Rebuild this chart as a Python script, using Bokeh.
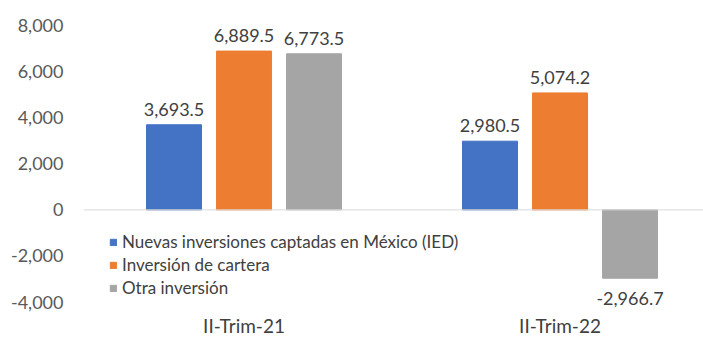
from bokeh.plotting import figure
from bokeh.models import Range1d, FixedTicker, ColumnDataSource, LabelSet, Span, Legend, LegendItem, NumeralTickFormatter
from bokeh.core.properties import value
from bokeh.embed import file_html
from bokeh.resources import INLINE

categories = ["II-Trim-21", "II-Trim-22"]
series_names = ["Nuevas inversiones captadas en México (IED)", "Inversión de cartera", "Otra inversión"]
ied = [3693.5, 2980.5]
cartera = [6889.5, 5074.2]
otra = [6773.5, -2966.7]
colors = ["#4472C4", "#ED7D31", "#A5A5A5"]
y_ticks = [-4000, -2000, 0, 2000, 4000, 6000, 8000]

FONT = "Lato"
W, H = 703, 339
x0 = -0.008
p = figure(width=W, height=H, output_backend="svg", toolbar_location=None,
           x_range=Range1d(x0, x0 + 620 / 316), y_range=Range1d(-4236, 8000),
           min_border_left=83, min_border_right=0, min_border_top=25, min_border_bottom=19)
p.outline_line_color = None
p.xgrid.grid_line_color = None
p.ygrid.grid_line_color = None
p.background_fill_color = "white"
p.border_fill_color = "white"

centers = [i + 0.5 for i in range(len(categories))]
bw = 55 / 316
off = 70 / 316
renderers = []
for k, (vals, col) in enumerate(zip([ied, cartera, otra], colors)):
    xs = [c + (k - 1) * off for c in centers]
    labels = [f"{v:,.1f}" for v in vals]
    src = ColumnDataSource(dict(x=xs, top=vals))
    r = p.vbar(x="x", top="top", bottom=0, width=bw, color=col, source=src)
    renderers.append(r)
    psrc = ColumnDataSource(dict(x=[x for x, v in zip(xs, vals) if v >= 0], y=[v for v in vals if v >= 0],
                                 lab=[l for l, v in zip(labels, vals) if v >= 0]))
    nsrc = ColumnDataSource(dict(x=[x for x, v in zip(xs, vals) if v < 0], y=[v for v in vals if v < 0],
                                 lab=[l for l, v in zip(labels, vals) if v < 0]))
    p.add_layout(LabelSet(x="x", y="y", text="lab", source=psrc, text_align="center",
                          y_offset=9, text_font=value(FONT), text_font_size="18px",
                          text_color="#404040", text_baseline="bottom"))
    p.add_layout(LabelSet(x="x", y="y", text="lab", source=nsrc, text_align="center",
                          y_offset=-14, text_font=value(FONT), text_font_size="18px",
                          text_color="#404040", text_baseline="top"))

p.add_layout(Span(location=0, dimension="width", line_color="#D9D9D9", line_width=1))

p.yaxis.ticker = FixedTicker(ticks=y_ticks)
p.yaxis.formatter = NumeralTickFormatter(format="0,0")
p.yaxis.axis_line_color = None
p.yaxis.major_tick_line_color = None
p.yaxis.minor_tick_line_color = None
p.yaxis.major_label_standoff = 14
p.yaxis.major_label_text_font = FONT
p.yaxis.major_label_text_font_size = "18px"
p.yaxis.major_label_text_color = "#595959"

p.xaxis.ticker = FixedTicker(ticks=centers)
p.xaxis.major_label_overrides = {c: cat for c, cat in zip(centers, categories)}
p.xaxis.axis_line_color = None
p.xaxis.major_tick_line_color = None
p.xaxis.minor_tick_line_color = None
p.xaxis.major_label_standoff = 0
p.xaxis.major_label_text_font = FONT
p.xaxis.major_label_text_font_size = "19px"
p.xaxis.major_label_text_color = "#404040"

legend = Legend(items=[LegendItem(label=n, renderers=[r]) for n, r in zip(series_names, renderers)],
                location=(26, 8), padding=0, margin=0, spacing=0,
                glyph_width=8, glyph_height=8, label_standoff=5, label_height=23,
                label_text_font=FONT, label_text_font_size="17px", label_text_color="#404040",
                border_line_color=None, background_fill_alpha=0)
p.add_layout(legend)

open("out.html", "w").write(file_html(p, INLINE))
